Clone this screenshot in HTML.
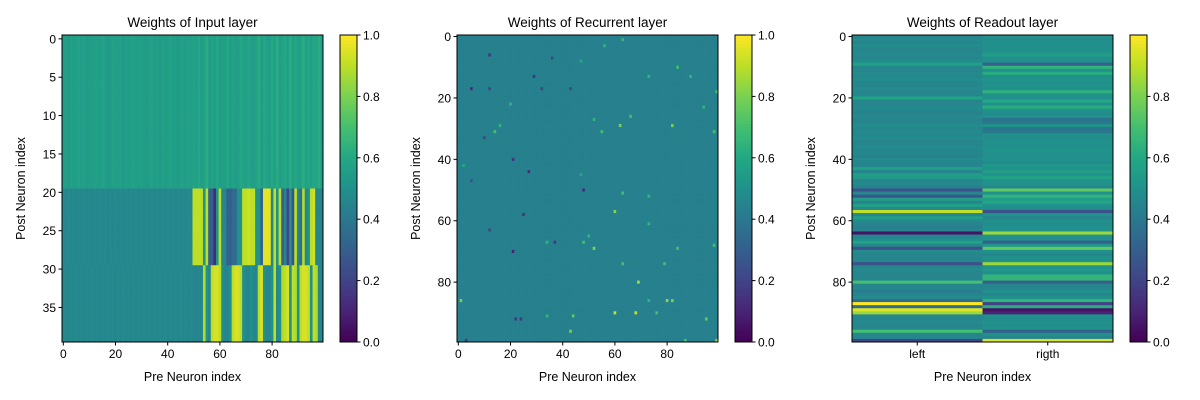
<!DOCTYPE html>
<html><head><meta charset="utf-8"><style>
body{margin:0;background:#fff;}
svg{display:block;font-family:"Liberation Sans",sans-serif;}
</style></head><body>
<svg id="fig" width="1200" height="400" xmlns="http://www.w3.org/2000/svg"></svg>
<script>
// ---------- data ----------
const inputTopCols = [0.55,0.56,0.54,0.57,0.55,0.56,0.58,0.55,0.57,0.54,0.56,0.55,0.57,0.56,0.55,0.58,0.56,0.54,0.55,0.57,0.56,0.55,0.57,0.54,0.56,0.55,0.56,0.58,0.55,0.56,0.57,0.55,0.54,0.56,0.57,0.55,0.56,0.54,0.57,0.55,0.56,0.58,0.55,0.56,0.54,0.57,0.56,0.55,0.57,0.56,0.58,0.56,0.6,0.55,0.57,0.62,0.55,0.58,0.56,0.6,0.55,0.57,0.56,0.6,0.55,0.58,0.56,0.55,0.6,0.57,0.55,0.6,0.56,0.55,0.58,0.62,0.55,0.6,0.57,0.55,0.6,0.56,0.62,0.55,0.58,0.6,0.55,0.62,0.56,0.6,0.55,0.58,0.62,0.56,0.6,0.55,0.6,0.58,0.62,0.56];
const inputMidCols = [0.47,0.46,0.47,0.46,0.47,0.46,0.47,0.46,0.47,0.46,0.47,0.46,0.47,0.46,0.47,0.46,0.47,0.46,0.47,0.46,0.47,0.46,0.47,0.46,0.47,0.46,0.47,0.46,0.47,0.46,0.47,0.46,0.47,0.46,0.47,0.46,0.47,0.46,0.47,0.46,0.47,0.46,0.47,0.46,0.47,0.46,0.47,0.46,0.47,0.46,
 0.9,0.9,0.9,0.9,0.5,0.9,0.3,0.3,0.12,0.5,0.9,0.45,0.45,0.3,0.3,0.35,0.35,0.5,0.5,0.9,0.9,0.92,0.9,0.9,0.5,0.5,0.3,0.96,0.96,0.96,0.45,0.9,0.5,0.9,0.3,0.45,0.2,0.5,0.25,0.9,0.45,0.35,0.88,0.45,0.5,0.9,0.92,0.45,0.45,0.45];
const inputLowCols = [0.46,0.47,0.46,0.47,0.46,0.47,0.46,0.47,0.46,0.47,0.46,0.47,0.46,0.47,0.46,0.47,0.46,0.47,0.46,0.47,0.46,0.47,0.46,0.47,0.46,0.47,0.46,0.47,0.46,0.47,0.46,0.47,0.46,0.47,0.46,0.47,0.46,0.47,0.46,0.47,0.46,0.47,0.46,0.47,0.46,0.47,0.46,0.47,0.46,0.47,
 0.45,0.45,0.45,0.45,0.88,0.5,0.45,0.9,0.94,0.94,0.9,0.5,0.45,0.45,0.5,0.9,0.94,0.94,0.9,0.5,0.45,0.45,0.5,0.45,0.45,0.9,0.94,0.5,0.45,0.45,0.5,0.9,0.45,0.5,0.88,0.9,0.94,0.5,0.9,0.88,0.5,0.9,0.94,0.94,0.9,0.5,0.9,0.88,0.45,0.45];
const inputRowBlocks = [20,10,10];

const recBase = 0.43;
const recSpecks = [[80,69,0.88],[90,60,0.92],[90,68,0.92],[69,52,0.82],[57,60,0.82],[86,80,0.82],[86,82,0.8],[99,99,0.85],[29,62,0.8],[29,82,0.8],[86,1,0.8],[96,43,0.8],
 [17,5,0.12],[70,21,0.1],[6,12,0.15],[13,29,0.15],[44,27,0.12],[50,48,0.12],[92,22,0.15],[92,24,0.15],[33,10,0.2],[63,12,0.2],[67,37,0.15],[17,43,0.2],[99,3,0.15],[17,32,0.2],[58,25,0.15],[17,12,0.2],[7,36,0.2],[40,21,0.15],[47,5,0.25],
 [3,56,0.65],[1,63,0.65],[13,73,0.65],[10,84,0.7],[18,99,0.7],[31,98,0.7],[31,55,0.7],[31,14,0.7],[22,20,0.65],[27,52,0.65],[26,66,0.7],[61,73,0.65],[68,98,0.7],[67,48,0.7],[67,34,0.65],[74,63,0.7],[74,79,0.7],[69,84,0.7],[13,89,0.65],[23,94,0.65],[42,2,0.6],[29,16,0.65],[91,44,0.75],[91,34,0.65],[86,73,0.65],[90,76,0.7],[99,87,0.7],[92,95,0.75],[65,50,0.65],[52,73,0.65],[51,63,0.7],[8,47,0.6],[45,47,0.6]];

const readoutLeft = [0.45,0.47,0.46,0.48,0.45,0.46,0.47,0.45,0.48,0.56,0.46,0.45,0.47,0.46,0.48,0.45,0.46,0.47,0.45,0.46,0.58,0.46,0.45,0.47,0.46,0.44,0.47,0.45,0.46,0.48,0.45,0.47,0.46,0.48,0.45,0.46,0.47,0.45,0.46,0.44,0.47,0.45,0.46,0.56,0.45,0.55,0.54,0.45,0.47,0.44,0.25,0.46,0.27,0.55,0.45,0.56,0.47,0.9,0.45,0.55,0.48,0.45,0.42,0.45,0.05,0.45,0.48,0.58,0.45,0.25,0.47,0.45,0.46,0.45,0.25,0.45,0.47,0.45,0.46,0.45,0.7,0.45,0.46,0.42,0.45,0.47,0.35,1.0,0.35,0.95,0.85,0.45,0.46,0.47,0.45,0.46,0.7,0.45,0.46,0.2];
const readoutRight = [0.5,0.48,0.5,0.49,0.5,0.51,0.55,0.5,0.49,0.3,0.65,0.5,0.62,0.5,0.51,0.49,0.5,0.5,0.64,0.5,0.49,0.6,0.5,0.62,0.5,0.48,0.5,0.38,0.4,0.5,0.38,0.4,0.5,0.48,0.5,0.49,0.5,0.51,0.5,0.49,0.5,0.48,0.52,0.5,0.55,0.5,0.58,0.5,0.51,0.45,0.75,0.5,0.65,0.55,0.6,0.5,0.48,0.25,0.5,0.45,0.5,0.48,0.5,0.5,0.85,0.5,0.48,0.3,0.52,0.75,0.5,0.45,0.5,0.5,0.85,0.5,0.52,0.5,0.65,0.65,0.3,0.45,0.45,0.5,0.45,0.5,0.65,0.2,0.62,0.05,0.1,0.5,0.48,0.5,0.49,0.5,0.3,0.5,0.45,0.95];
const readoutCats = ['left','rigth'];

// ---------- drawing ----------
const NS='http://www.w3.org/2000/svg';
const svg=document.getElementById('fig');
const stops=[[0,'#440154'],[0.1,'#482475'],[0.2,'#414487'],[0.3,'#355f8d'],[0.4,'#2a788e'],[0.5,'#21918c'],[0.6,'#22a884'],[0.7,'#44bf70'],[0.8,'#7ad151'],[0.9,'#bddf26'],[1,'#fde725']];
function hx(h){return [1,3,5].map(i=>parseInt(h.substr(i,2),16));}
function viridis(v){v=Math.max(0,Math.min(1,v));for(let i=1;i<stops.length;i++){if(v<=stops[i][0]){const a=stops[i-1],b=stops[i];const t=(v-a[0])/(b[0]-a[0]);const c1=hx(a[1]),c2=hx(b[1]);return 'rgb('+c1.map((c,k)=>Math.round(c+(c2[k]-c)*t)).join(',')+')';}}return stops[stops.length-1][1];}
function mk(tag,attrs,parent){const e=document.createElementNS(NS,tag);for(const k in attrs)e.setAttribute(k,attrs[k]);(parent||svg).appendChild(e);return e;}
function txt(x,y,s,size,anchor,parent,rot){const t=mk('text',{x:x,y:y,'font-size':size,'text-anchor':anchor||'middle',fill:'#000'},parent);if(rot)t.setAttribute('transform','rotate(-90 '+x+' '+y+')');t.textContent=s;return t;}

function panel(opt){
  const g=mk('g',{});
  
  
  const {x0,y0,w,h,rows,cols,val}=opt;
  const cw=w/cols,ch=h/rows;
  const xs=c=>x0+c*cw, ys=r=>y0+r*ch;
  for(let r=0;r<rows;r++)for(let c=0;c<cols;c++){
    const cell=mk('rect',{x:xs(c).toFixed(2),y:ys(r).toFixed(2),width:(cw+0.4).toFixed(2),height:(ch+0.4).toFixed(2),fill:viridis(val(r,c))},g);
    
    
  }
  mk('rect',{x:x0,y:y0,width:w,height:h,fill:'none',stroke:'#000','stroke-width':1},g);
  opt.yt.forEach(v=>{const y=y0+(v+0.5)*ch;mk('line',{x1:x0,x2:x0-3.5,y1:y,y2:y,stroke:'#000'},g);txt(x0-6,y+4.5,String(v),12,'end',g);});
  opt.xt.forEach((v,i)=>{const x=x0+(v+0.5)*cw;mk('line',{x1:x,x2:x,y1:y0+h,y2:y0+h+3.5,stroke:'#000'},g);txt(x,y0+h+16,opt.xl?opt.xl[i]:String(v),12,'middle',g);});
  const tt=txt(x0+w/2,y0-8,opt.title,13.5,'middle',g);
  const xa=txt(x0+w/2,y0+h+39,'Pre Neuron index',12.5,'middle',g);
  const ya=txt(x0-37,y0+h/2,'Post Neuron index',12.5,'middle',g,true);
  const cb=mk('g',{},g);
  const cx=opt.cbx,N=100;
  for(let i=0;i<N;i++){const v=opt.cmax*(1-(i+0.5)/N);mk('rect',{x:cx,y:(y0+i*h/N).toFixed(2),width:17,height:(h/N+0.5).toFixed(2),fill:viridis(v/opt.cmax)},cb);}
  mk('rect',{x:cx,y:y0,width:17,height:h,fill:'none',stroke:'#000'},cb);
  opt.ct.forEach(v=>{const y=y0+h*(1-v/opt.cmax);mk('line',{x1:cx+17,x2:cx+20.5,y1:y,y2:y,stroke:'#000'},cb);txt(cx+23,y+4.5,v.toFixed(1),12,'start',cb);});
}

panel({name:'input-weights-panel',x0:62,y0:35,w:261,h:307,rows:40,cols:100,
  val:(r,c)=>r<inputRowBlocks[0]?inputTopCols[c]:(r<inputRowBlocks[0]+inputRowBlocks[1]?inputMidCols[c]:inputLowCols[c]),
  yt:[0,5,10,15,20,25,30,35],xt:[0,20,40,60,80],title:'Weights of Input layer',cbx:340,cmax:1,ct:[0,0.2,0.4,0.6,0.8,1.0]});

const recMap={};recSpecks.forEach(s=>{recMap[s[0]+','+s[1]]=s[2];});
panel({name:'recurrent-weights-panel',x0:457,y0:35,w:261,h:307,rows:100,cols:100,
  val:(r,c)=>recMap[r+','+c]!==undefined?recMap[r+','+c]:recBase,
  yt:[0,20,40,60,80],xt:[0,20,40,60,80],title:'Weights of Recurrent layer',cbx:735,cmax:1,ct:[0,0.2,0.4,0.6,0.8,1.0]});

panel({name:'readout-weights-panel',x0:852,y0:35,w:261,h:307,rows:100,cols:2,
  val:(r,c)=>c===0?readoutLeft[r]:readoutRight[r],
  yt:[0,20,40,60,80],xt:[0,1],xl:readoutCats,title:'Weights of Readout layer',cbx:1130,cmax:1,ct:[0,0.2,0.4,0.6,0.8]});
</script>
</body></html>
